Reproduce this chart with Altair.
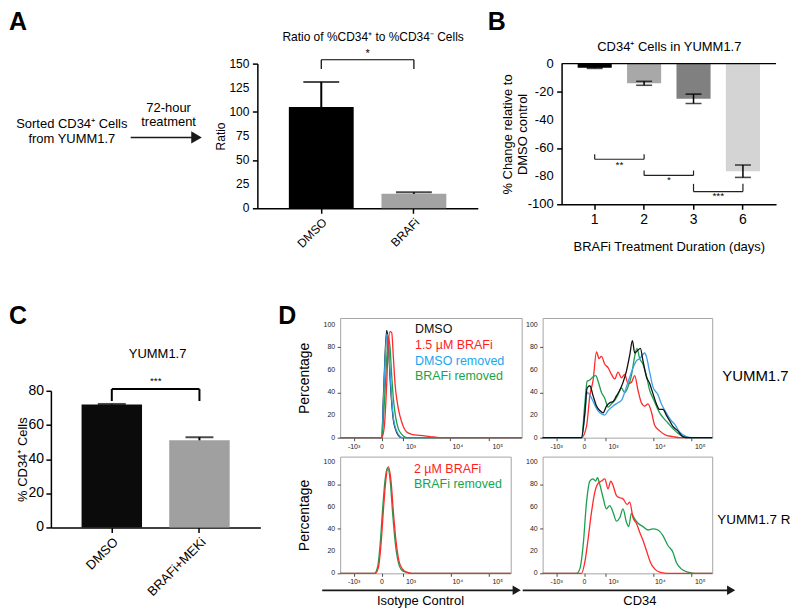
import altair as alt
import pandas as pd

FONT = "Liberation Sans"
ONE = pd.DataFrame({"k": [0]})

# ---------------- Panel A ----------------
a_groups = ["DMSO", "BRAFi"]
a_values = [105, 15]
a_err = [26, 1.5]
a_colors = ["#000000", "#a3a3a3"]
a_yticks = [0, 25, 50, 75, 100, 125, 150]
a_sig_pair = ["DMSO", "BRAFi"]
a_sig_level = 154
a_sig_tip = 144.5
a_sig_text = "*"
a_sig_text_level = 160

# ---------------- Panel B ----------------
b_days = ["1", "2", "3", "6"]
b_values = [-3, -14, -25, -76.5]
b_err = [0.4, 1.4, 3.3, 4.4]
b_colors = ["#000000", "#a8a8a8", "#808080", "#d4d4d4"]
b_yticks = [0, -20, -40, -60, -80, -100]
b_sig_from = ["1", "2", "3"]
b_sig_to = ["2", "3", "6"]
b_sig_level = [-68, -79.5, -91]
b_sig_tip = [-64.5, -76, -85.5]
b_sig_text = ["**", "*", "***"]
b_sig_text_level = [-72, -83, -94]

# ---------------- Panel C ----------------
c_groups = ["DMSO", "BRAFi+MEKi"]
c_values = [72, 51]
c_err = [0.3, 1.8]
c_colors = ["#0b0b0b", "#a0a0a0"]
c_yticks = [0, 20, 40, 60, 80]
c_sig_pair = ["DMSO", "BRAFi+MEKi"]
c_sig_level = 81
c_sig_tip = 74
c_sig_text = "***"
c_sig_text_level = 86

# ---------------- Panel D (histograms, x in display channel units) ----------------
tl_black_x = [0, 41.7, 43.3, 45, 46.7, 48.3, 50, 51.7, 53.3, 55.7, 58.3, 61.7, 182]
tl_black_y = [0, 0, 34, 72, 95, 84, 54, 31, 16, 7, 2, 0, 0]
tl_blue_x = [0, 41.7, 43.3, 45, 46.7, 48.3, 50, 51.7, 53.3, 55.7, 58.3, 61.7, 182]
tl_blue_y = [0, 0, 30, 68, 92, 86, 58, 34, 18, 8, 3, 0, 0]
tl_green_x = [0, 41.7, 44.3, 46.7, 48.3, 50, 51.7, 53.3, 55.7, 58.3, 61.7, 66.7, 182]
tl_green_y = [0, 0, 30, 70, 90, 80, 55, 35, 18, 8, 3, 0, 0]
tl_red_x = [0, 41.7, 44.3, 46.7, 48.3, 50, 51.7, 53.3, 55, 57.3, 60, 63.3, 66.7, 71.7, 80, 90, 100, 182]
tl_red_y = [0, 0, 10, 48, 84, 94, 93, 72, 48, 31, 19, 10, 5, 3, 2, 1, 0, 0]

tr_red_x = [0, 39, 44, 47.3, 50.6, 54, 56.6, 59, 62.3, 65.6, 69, 72.3, 75.6, 79, 82.3, 85.6, 89,
            92.3, 95.6, 99, 102.3, 105.6, 109, 112.3, 117.3, 124, 130.6, 137.3, 170]
tr_red_y = [0, 0, 10, 37, 51, 76, 70, 72, 65, 62, 56, 52, 58, 53, 56, 48, 49, 55, 42, 31, 28, 30,
            23, 11, 6, 2, 1, 0, 0]
tr_green_x = [0, 39, 42.3, 44.6, 47.3, 50.6, 53.3, 55.6, 59, 62.3, 65.6, 69, 72.3, 75.6, 79, 82.3,
              85.6, 89, 92.3, 94.6, 97.3, 100.6, 104, 107.3, 110.6, 114, 117.3, 120.6, 125.6, 130.6,
              135.6, 140.6, 145.6, 170]
tr_green_y = [0, 0, 30, 50, 51, 54, 55, 50, 40, 35, 27, 30, 33, 38, 44, 40, 45, 55, 72, 79, 70, 65,
              55, 42, 35, 28, 22, 18, 13, 8, 4, 1, 0, 0]
tr_blue_x = [0, 39, 42.3, 44.6, 47.3, 50.6, 54, 57.3, 62.3, 65.6, 70.6, 75.6, 79, 84, 89, 94, 97.3,
             102.3, 104, 107.3, 110.6, 115.6, 119, 124, 129, 132.3, 137.3, 144, 150, 170]
tr_blue_y = [0, 0, 20, 40, 38, 32, 26, 22, 20, 24, 28, 31, 33, 45, 58, 68, 70, 75, 72, 58, 45, 38,
             30, 22, 15, 12, 5, 1, 0, 0]
tr_black_x = [0, 39, 42.3, 44.6, 47.3, 50.6, 54, 57.3, 60.6, 64, 67.3, 70.6, 74, 77.3, 80.6, 84,
              87.3, 90, 92.3, 95, 98, 100.6, 104, 107.3, 110.6, 114, 117.3, 120.6, 124, 127.3,
              130.6, 135.6, 140.6, 145.6, 170]
tr_black_y = [0, 0, 22, 44, 46, 37, 28, 24, 22, 28, 31, 32, 37, 42, 49, 59, 73, 86, 75, 77, 79, 68,
              54, 48, 39, 30, 25, 25, 20, 15, 10, 6, 1, 0, 0]

bl_green_x = [0, 34.3, 37.6, 40, 42.6, 45, 47.6, 50.3, 52.6, 55.3, 58.3, 61.6, 66, 71, 171]
bl_green_y = [0, 0, 6, 25, 58, 84, 95, 82, 54, 27, 10, 3, 1, 0, 0]
bl_red_x = [0, 35, 38.3, 40.7, 43.3, 45.7, 48.3, 51, 53.3, 56, 59, 62.3, 66.7, 71.7, 171]
bl_red_y = [0, 0, 5, 23, 56, 83, 96, 83, 56, 29, 11, 4, 1, 0, 0]

br_green_x = [0, 34, 37.3, 40.6, 44, 47.3, 50.6, 53, 55, 57.3, 60.6, 64, 67.3, 70.6, 74, 77.3, 80.6,
              84, 86.3, 89, 92.3, 95.6, 100.6, 105.6, 110.6, 115.6, 120.6, 125.6, 130.6, 134, 139,
              145.6, 152.3, 170]
br_green_y = [0, 0, 4, 25, 64, 83, 85, 83, 86, 80, 68, 58, 61, 55, 47, 50, 58, 46, 42, 54, 49, 45,
              42, 39, 40, 39, 34, 25, 19, 10, 4, 1, 0, 0]
br_red_x = [0, 39, 42.3, 45.6, 49, 52.3, 55.6, 59, 62.3, 65.6, 68.3, 70.6, 74, 77.3, 80.6, 84.6,
            87.3, 90.6, 94, 97.3, 101.3, 104.6, 108, 112.3, 117.3, 124, 170]
br_red_y = [0, 0, 10, 31, 55, 73, 81, 83, 85, 76, 83, 79, 70, 68, 67, 62, 64, 50, 45, 37, 28, 19,
            10, 4, 1, 0, 0]

d_major_ticks = [14, 42, 71, 118, 158]
d_major_labels = ["-10³", "0", "10³", "10⁴", "10⁵"]
d_minor_ticks = [20, 26, 30, 33, 36, 38, 40, 44, 46, 48.5, 51, 54, 57, 60, 63, 66,
                 85, 93, 99, 104, 107.5, 110.5, 113.5, 116,
                 130, 137, 142, 146, 149, 152, 154, 156]
d_yticks = [0, 20, 40, 60, 80, 100]
d_yminor = [5, 10, 15, 25, 30, 35, 45, 50, 55, 65, 70, 75, 85, 90, 95]

C_BLACK = "#111111"
C_RED = "#ff2a2a"
C_BLUE = "#3aa0e8"
C_GREEN = "#1c9e50"
L_RED = "#ff1e1e"
L_BLUE = "#19a6ee"
L_GREEN = "#14a64a"


# ---------------- helpers ----------------
def txt(text, x, y, size=12, color="black", align="center", baseline="middle", weight="normal"):
    return alt.Chart(ONE).mark_text(
        text=text, fontSize=size, color=color, align=align, baseline=baseline,
        fontWeight=weight, font=FONT,
    ).encode(x=alt.value(x), y=alt.value(y))


def arrow(x0, x1, y, head=90, width=1.8):
    line = alt.Chart(ONE).mark_rule(strokeWidth=width, color="#1a1a1a").encode(
        x=alt.value(x0), x2=alt.value(x1), y=alt.value(y))
    tip = alt.Chart(ONE).mark_point(shape="triangle-right", filled=True, size=head,
                                    color="#1a1a1a", opacity=1).encode(
        x=alt.value(x1 + 2), y=alt.value(y))
    return [line, tip]


def ax(**kw):
    base = dict(labelFontSize=12, titleFontSize=12, tickSize=5, tickWidth=1.5, domainWidth=1.5,
                labelPadding=3, labelColor="black", titleColor="black",
                domainColor="black", tickColor="black", grid=False)
    base.update(kw)
    return alt.Axis(**base)


def y_labels(values, scale, xoff, size, color="black"):
    df = pd.DataFrame({"tv": values, "tt": [str(v) for v in values]})
    return alt.Chart(df).mark_text(align="right", baseline="middle", fontSize=size, color=color,
                                   font=FONT).encode(
        x=alt.value(xoff), y=alt.Y("tv:Q", scale=scale), text="tt:N")


# ---------------- Diagram for A ----------------
a_diag = alt.layer(
    txt("A", -42, -54, size=25, align="left", baseline="top", weight="bold"),
    txt("Sorted CD34⁺ Cells", 21, 61, size=13),
    txt("from YUMM1.7", 21, 76, size=13),
    txt("72-hour", 118, 44, size=13),
    txt("treatment", 118, 59, size=13),
    *arrow(80, 144, 74, head=150, width=1.5),
).properties(width=123, height=145)

# ---------------- Bar A ----------------
a_df = pd.DataFrame({"group": a_groups, "value": a_values, "err": a_err, "col": a_colors})
a_df["upper"] = a_df["value"] + a_df["err"]
a_xs = alt.Scale(domain=a_groups, paddingInner=0.3, paddingOuter=0.34)
a_ys = alt.Scale(domain=[0, 150], nice=False)
a_bars = alt.Chart(a_df).mark_bar().encode(
    x=alt.X("group:N", scale=a_xs, axis=ax(title=None, labelAngle=-45, labelFontSize=12)),
    y=alt.Y("value:Q", scale=a_ys, axis=ax(title="Ratio", values=a_yticks, labels=False,
                                           titlePadding=24)),
    color=alt.Color("col:N", scale=None, legend=None),
)
a_errl = alt.Chart(a_df).mark_rule(color="black", strokeWidth=2).encode(
    x=alt.X("group:N", scale=a_xs), y=alt.Y("value:Q", scale=a_ys), y2="upper:Q")
a_cap = alt.Chart(a_df).mark_tick(color="black", size=36, thickness=2).encode(
    x=alt.X("group:N", scale=a_xs), y=alt.Y("upper:Q", scale=a_ys))
a_sig = pd.DataFrame({"from": [a_sig_pair[0]], "to": [a_sig_pair[1]], "level": [a_sig_level],
                      "label": [a_sig_text], "tlevel": [a_sig_text_level]})
a_tips = pd.DataFrame({"group": a_sig_pair, "level": [a_sig_level] * 2, "tip": [a_sig_tip] * 2})
a_brh = alt.Chart(a_sig).mark_rule(color="black", strokeWidth=1.2).encode(
    x=alt.X("from:N", scale=a_xs), x2="to:N", y=alt.Y("level:Q", scale=a_ys))
a_brv = alt.Chart(a_tips).mark_rule(color="black", strokeWidth=1.2).encode(
    x=alt.X("group:N", scale=a_xs), y=alt.Y("level:Q", scale=a_ys), y2="tip:Q")
a_star = alt.Chart(a_sig).mark_text(dx=46.5, fontSize=11, font=FONT).encode(
    x=alt.X("from:N", scale=a_xs), y=alt.Y("tlevel:Q", scale=a_ys), text="label:N")
a_chart = alt.layer(
    a_bars, a_errl, a_cap, a_brh, a_brv, a_star,
    y_labels(a_yticks, a_ys, -8, 12),
    txt("Ratio of %CD34⁺ to %CD34⁻ Cells", 116, -27, size=12),
).properties(width=221, height=145)

# ---------------- Bar B ----------------
b_df = pd.DataFrame({"day": b_days, "value": b_values, "err": b_err, "col": b_colors})
b_df["lo"] = b_df["value"] - b_df["err"]
b_df["hi"] = b_df["value"] + b_df["err"]
b_xs = alt.Scale(domain=b_days, paddingInner=0.31, paddingOuter=0.325)
b_ys = alt.Scale(domain=[-100, 0], nice=False)
b_bars = alt.Chart(b_df).mark_bar().encode(
    x=alt.X("day:N", scale=b_xs, axis=ax(title="BRAFi Treatment Duration (days)", labelAngle=0,
                                         labelFontSize=14, titleFontSize=13, titlePadding=14)),
    y=alt.Y("value:Q", scale=b_ys, axis=ax(title=["% Change relative to", "DMSO control"],
                                           values=b_yticks, labels=False,
                                           titleFontSize=13, titlePadding=26)),
    color=alt.Color("col:N", scale=None, legend=None),
)
b_errl = alt.Chart(b_df).mark_rule(color="black", strokeWidth=1.5).encode(
    x=alt.X("day:N", scale=b_xs), y=alt.Y("lo:Q", scale=b_ys), y2="hi:Q")
b_cap_lo = alt.Chart(b_df).mark_tick(color="black", size=16, thickness=1.6).encode(
    x=alt.X("day:N", scale=b_xs), y=alt.Y("lo:Q", scale=b_ys))
b_cap_hi = alt.Chart(b_df).mark_tick(color="black", size=16, thickness=1.6).encode(
    x=alt.X("day:N", scale=b_xs), y=alt.Y("hi:Q", scale=b_ys))
b_zero = alt.Chart(ONE).mark_rule(color="black", strokeWidth=1.5).encode(y=alt.datum(0))
b_sig = pd.DataFrame({"from": b_sig_from, "to": b_sig_to, "level": b_sig_level,
                      "label": b_sig_text, "tlevel": b_sig_text_level})
b_tips = pd.DataFrame({"day": b_sig_from + b_sig_to, "level": b_sig_level + b_sig_level,
                       "tip": b_sig_tip + b_sig_tip})
b_brh = alt.Chart(b_sig).mark_rule(color="#222", strokeWidth=1.2).encode(
    x=alt.X("from:N", scale=b_xs), x2="to:N", y=alt.Y("level:Q", scale=b_ys))
b_brv = alt.Chart(b_tips).mark_rule(color="#222", strokeWidth=1.2).encode(
    x=alt.X("day:N", scale=b_xs), y=alt.Y("level:Q", scale=b_ys), y2="tip:Q")
b_star = alt.Chart(b_sig).mark_text(dx=24.8, fontSize=10, font=FONT).encode(
    x=alt.X("from:N", scale=b_xs), y=alt.Y("tlevel:Q", scale=b_ys), text="label:N")
b_chart = alt.layer(
    b_bars, b_zero, b_errl, b_cap_lo, b_cap_hi, b_brh, b_brv, b_star,
    y_labels(b_yticks, b_ys, -8, 13),
    txt("B", -74, -54, size=25, align="left", baseline="top", weight="bold"),
    txt("CD34⁺ Cells in YUMM1.7", 108, -17, size=13),
).properties(width=215, height=141)

# ---------------- Bar C (plot spans 210 px, value axis drawn on lower 137 px) ----------------
c_df = pd.DataFrame({"group": c_groups, "value": c_values, "err": c_err, "col": c_colors})
c_df["upper"] = c_df["value"] + c_df["err"]
c_xs = alt.Scale(domain=c_groups, paddingInner=0.31, paddingOuter=0.35)
c_ys = alt.Scale(domain=[0, 80], nice=False, range=[210, 73])
c_bars = alt.Chart(c_df).mark_bar().encode(
    x=alt.X("group:N", scale=c_xs, axis=ax(title=None, labelAngle=-45, labelFontSize=13)),
    y=alt.Y("value:Q", scale=c_ys, axis=ax(title="% CD34⁺ Cells", values=c_yticks, labels=False,
                                           titleFontSize=13, titlePadding=16)),
    color=alt.Color("col:N", scale=None, legend=None),
)
c_errl = alt.Chart(c_df).mark_rule(color="black", strokeWidth=2).encode(
    x=alt.X("group:N", scale=c_xs), y=alt.Y("value:Q", scale=c_ys), y2="upper:Q")
c_cap = alt.Chart(c_df).mark_tick(color="black", size=28, thickness=2).encode(
    x=alt.X("group:N", scale=c_xs), y=alt.Y("upper:Q", scale=c_ys))
c_sig = pd.DataFrame({"from": [c_sig_pair[0]], "to": [c_sig_pair[1]], "level": [c_sig_level],
                      "label": [c_sig_text], "tlevel": [c_sig_text_level]})
c_tips = pd.DataFrame({"group": c_sig_pair, "level": [c_sig_level] * 2, "tip": [c_sig_tip] * 2})
c_brh = alt.Chart(c_sig).mark_rule(color="black", strokeWidth=2).encode(
    x=alt.X("from:N", scale=c_xs), x2="to:N", y=alt.Y("level:Q", scale=c_ys))
c_brv = alt.Chart(c_tips).mark_rule(color="black", strokeWidth=2).encode(
    x=alt.X("group:N", scale=c_xs), y=alt.Y("level:Q", scale=c_ys), y2="tip:Q")
c_star = alt.Chart(c_sig).mark_text(dx=44, fontSize=10, font=FONT).encode(
    x=alt.X("from:N", scale=c_xs), y=alt.Y("tlevel:Q", scale=c_ys), text="label:N")
c_chart = alt.layer(
    c_bars, c_errl, c_cap, c_brh, c_brv, c_star,
    y_labels(c_yticks, c_ys, -7, 14),
    txt("C", -42, -14, size=25, align="left", baseline="top", weight="bold"),
    txt("YUMM1.7", 107, 36, size=13),
).properties(width=210, height=210)


# ---------------- Histograms D ----------------
def hist_panel(series, width, height, ymax, extra, ytitle=None, xtitle=None, xtitle_x=None):
    xs = alt.Scale(domain=[0, width], nice=False, zero=False)
    ys = alt.Scale(domain=[0, ymax], nice=False)
    xkw = dict(values=sorted(d_major_ticks + d_minor_ticks), labels=False, tickSize=3,
               tickWidth=0.8, tickColor="#222", domain=False, grid=False, title=xtitle,
               titleFontSize=13, titlePadding=18, titleColor="black")
    if xtitle_x is not None:
        xkw["titleX"] = xtitle_x
    ykw = dict(values=sorted(d_yticks + d_yminor), labels=False, tickSize=3, tickWidth=0.8,
               tickColor="#222", domain=False, grid=False, title=ytitle,
               titleFontSize=14, titlePadding=25, titleColor="black")
    layers = []
    for i, (xv, yv, color) in enumerate(series):
        df = pd.DataFrame({"x": xv, "y": yv})
        if i == 0:
            enc = dict(x=alt.X("x:Q", scale=xs, axis=alt.Axis(**xkw)),
                       y=alt.Y("y:Q", scale=ys, axis=alt.Axis(**ykw)))
        else:
            enc = dict(x=alt.X("x:Q", scale=xs), y=alt.Y("y:Q", scale=ys))
        layers.append(alt.Chart(df).mark_line(color=color, strokeWidth=1.3,
                                              interpolate="monotone").encode(**enc))
    xl = pd.DataFrame({"tv": d_major_ticks, "tt": d_major_labels})
    layers.append(alt.Chart(xl).mark_text(fontSize=7, color="#222", font=FONT,
                                          baseline="middle").encode(
        x=alt.X("tv:Q", scale=xs), y=alt.value(height + 9), text="tt:N"))
    layers.append(y_labels(d_yticks, ys, -5, 7, color="#222"))
    return alt.layer(*layers, *extra).properties(
        width=width, height=height,
        view=alt.ViewBackground(stroke="#a5a5a5", strokeWidth=1))


d_tl = hist_panel(
    [(tl_black_x, tl_black_y, C_BLACK), (tl_blue_x, tl_blue_y, C_BLUE),
     (tl_green_x, tl_green_y, C_GREEN), (tl_red_x, tl_red_y, C_RED)],
    182, 120, 106,
    [txt("D", -62, -14, size=25, align="left", baseline="top", weight="bold"),
     txt("DMSO", 75, 11, size=12.5, color="#111", align="left"),
     txt("1.5 µM BRAFi", 75, 27, size=12.5, color=L_RED, align="left"),
     txt("DMSO removed", 75, 43, size=12.5, color=L_BLUE, align="left"),
     txt("BRAFi removed", 75, 58, size=12.5, color=L_GREEN, align="left")],
    ytitle="Percentage")
d_tr = hist_panel(
    [(tr_red_x, tr_red_y, C_RED), (tr_green_x, tr_green_y, C_GREEN),
     (tr_blue_x, tr_blue_y, C_BLUE), (tr_black_x, tr_black_y, C_BLACK)],
    170, 120, 106,
    [txt("YUMM1.7", 180, 58, size=15, align="left")])
d_bl = hist_panel(
    [(bl_green_x, bl_green_y, C_GREEN), (bl_red_x, bl_red_y, C_RED)],
    171, 117, 105,
    [txt("2 µM BRAFi", 74, 12, size=12.5, color=L_RED, align="left"),
     txt("BRAFi removed", 74, 27, size=12.5, color=L_GREEN, align="left"),
     *arrow(-18, 175, 134, head=90)],
    ytitle="Percentage", xtitle="Isotype Control", xtitle_x=80)
d_br = hist_panel(
    [(br_green_x, br_green_y, C_GREEN), (br_red_x, br_red_y, C_RED)],
    170, 117, 105,
    [txt("YUMM1.7 R", 175, 64, size=13.5, align="left"),
     *arrow(-20, 187, 134, head=90)],
    xtitle="CD34", xtitle_x=97)

# ---------------- Layout ----------------
row1 = alt.hconcat(a_diag, a_chart, b_chart, spacing=84, bounds="flush")
d_grid = alt.concat(d_tl, d_tr, d_bl, d_br, columns=2, spacing={"row": 19, "column": 21},
                    bounds="flush")
row2 = alt.hconcat(c_chart, d_grid, spacing=80, bounds="flush")

chart = alt.vconcat(row1, row2, spacing=255, bounds="flush").properties(
    padding=0
).configure(font=FONT).configure_view(stroke="transparent").configure_axis(
    labelFont=FONT, titleFont=FONT, titleFontWeight="normal"
)

chart.save("out.html", embed_options={"renderer": "svg", "actions": False})
